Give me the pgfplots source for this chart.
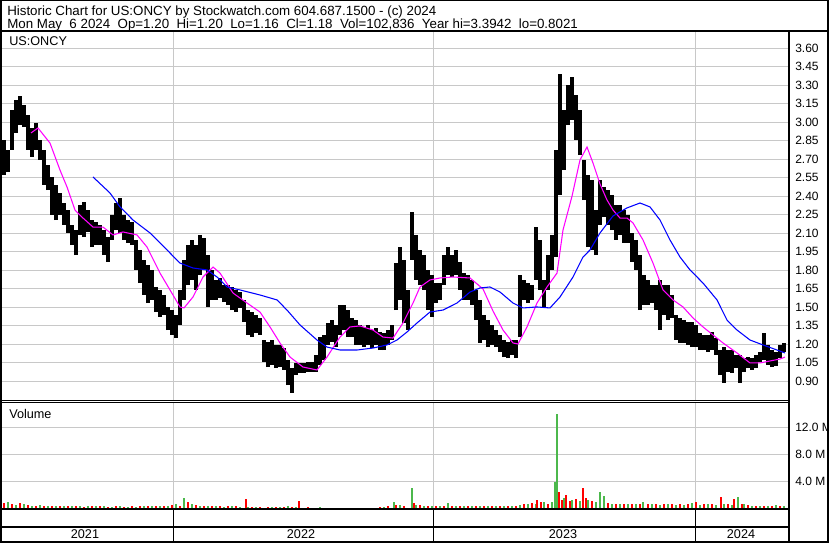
\documentclass[border=0pt]{standalone}
\usepackage{fontspec}
\setmainfont{Liberation Sans}
\usepackage{pgfplots}
\usepackage{pgfplotstable}
\pgfplotsset{compat=1.18}

\definecolor{gridc}{RGB}{200,200,200}
\definecolor{vgreen}{RGB}{76,184,76}
\definecolor{vred}{RGB}{255,0,0}
\definecolor{mag}{RGB}{255,0,255}
\definecolor{mblue}{RGB}{0,0,255}

% daily range (lo/hi), x = trading position along the chart
\pgfplotstableread{
x lo hi
0 2.694 2.880
4 2.572 2.856
8 2.596 2.775
12 2.775 3.099
16 2.913 3.180
20 2.977 3.213
24 2.961 3.139
28 2.775 3.058
32 2.718 2.953
36 2.775 2.994
40 2.694 2.856
44 2.491 2.775
48 2.450 2.653
52 2.248 2.556
56 2.207 2.491
60 2.248 2.426
64 2.167 2.345
68 2.102 2.288
72 2.004 2.167
76 1.923 2.126
80 2.086 2.329
84 2.069 2.353
88 2.110 2.288
92 1.988 2.207
96 2.004 2.191
100 2.004 2.167
104 1.923 2.126
108 1.867 2.069
112 2.045 2.248
116 2.126 2.345
120 2.102 2.386
124 2.045 2.248
128 2.021 2.207
132 2.004 2.191
136 1.802 2.045
140 1.696 1.964
144 1.599 1.883
148 1.534 1.842
152 1.559 1.802
156 1.461 1.664
160 1.421 1.640
164 1.437 1.599
168 1.315 1.502
172 1.275 1.477
176 1.250 1.437
180 1.356 1.640
184 1.559 1.883
188 1.680 2.004
192 1.721 2.045
196 1.640 2.004
200 1.761 2.086
204 1.802 2.061
208 1.502 1.923
212 1.559 1.802
216 1.559 1.721
220 1.575 1.737
224 1.542 1.680
228 1.518 1.680
232 1.477 1.664
236 1.461 1.640
240 1.494 1.623
244 1.380 1.559
248 1.275 1.477
252 1.258 1.461
256 1.291 1.437
260 1.275 1.413
264 1.056 1.234
268 1.015 1.218
272 1.032 1.234
276 1.007 1.194
280 1.015 1.194
284 0.991 1.169
288 0.869 1.072
292 0.805 1.007
296 0.950 1.048
300 0.967 1.048
304 0.967 1.048
308 0.975 1.056
312 0.975 1.056
316 0.975 1.113
320 1.032 1.258
324 1.072 1.275
328 1.194 1.372
332 1.218 1.396
336 1.177 1.356
340 1.275 1.518
344 1.315 1.518
348 1.258 1.477
352 1.258 1.413
356 1.194 1.396
360 1.194 1.356
364 1.177 1.340
368 1.194 1.356
372 1.169 1.315
376 1.194 1.331
380 1.153 1.299
384 1.153 1.291
388 1.194 1.315
392 1.234 1.356
396 1.477 1.858
400 1.559 1.988
404 1.372 1.883
408 1.315 1.640
412 1.883 2.272
416 1.721 2.086
420 1.680 1.964
424 1.640 1.923
428 1.477 1.802
432 1.421 1.761
436 1.534 1.696
440 1.559 1.696
444 1.680 1.923
448 1.761 1.988
452 1.745 1.923
456 1.761 1.964
460 1.640 1.867
464 1.559 1.777
468 1.559 1.761
472 1.518 1.721
476 1.396 1.640
480 1.210 1.559
484 1.234 1.437
488 1.177 1.396
492 1.194 1.356
496 1.177 1.315
500 1.137 1.275
504 1.096 1.234
508 1.088 1.218
512 1.113 1.234
516 1.088 1.234
520 1.258 1.761
524 1.559 1.721
528 1.534 1.696
532 1.559 1.680
536 1.721 2.150
540 1.640 2.045
544 1.502 1.721
548 1.640 1.923
552 1.802 2.086
556 1.907 2.775
560 2.410 3.391
564 2.612 3.099
568 2.977 3.302
572 3.018 3.367
576 2.856 3.221
580 2.734 3.099
584 2.369 2.694
588 1.988 2.572
592 1.964 2.531
596 1.923 2.288
600 2.167 2.531
604 2.231 2.475
608 2.167 2.450
612 2.126 2.410
616 2.045 2.329
620 2.086 2.329
624 2.021 2.288
628 2.021 2.248
632 1.867 2.102
636 1.802 2.045
640 1.477 1.923
644 1.518 1.761
648 1.518 1.721
652 1.534 1.680
656 1.477 1.680
660 1.315 1.721
664 1.437 1.680
668 1.396 1.680
672 1.413 1.599
676 1.234 1.437
680 1.210 1.413
684 1.210 1.396
688 1.194 1.380
692 1.177 1.380
696 1.177 1.356
700 1.153 1.291
704 1.153 1.275
708 1.137 1.275
712 1.153 1.299
716 1.113 1.250
720 0.950 1.153
724 0.886 1.177
728 0.975 1.153
732 0.967 1.153
736 1.007 1.113
740 0.886 1.113
744 0.975 1.088
748 1.007 1.096
752 0.991 1.088
756 1.007 1.113
760 1.056 1.137
764 1.072 1.291
768 1.032 1.194
772 1.015 1.153
776 1.023 1.137
780 1.088 1.194
784 1.137 1.210
}\bars

\begin{document}
\begin{tikzpicture}
\path[use as bounding box] (0,0) rectangle (622.5pt,-407.25pt);

% header
\node[anchor=base west, inner sep=0pt, font=\fontsize{10}{12}\selectfont] at (5.25pt,-11.25pt)
  {Historic Chart for US:ONCY by Stockwatch.com 604.687.1500 - (c) 2024};
\node[anchor=base west, inner sep=0pt, font=\fontsize{10}{12}\selectfont] at (5.25pt,-21pt)
  {Mon May\ \ 6 2024\ \ Op=1.20\ \ Hi=1.20\ \ Lo=1.16\ \ Cl=1.18\ \ Vol=102,836\ \ Year hi=3.3942\ \ lo=0.8021};

% price panel
\begin{axis}[
  at={(0pt,-23.25pt)}, anchor=north west,
  scale only axis, width=591.75pt, height=277.5pt,
  xmin=0, xmax=789, ymin=0.7395, ymax=3.7395,
  axis line style={draw=none}, major tick length=0pt,
  xtick={173,433.5,695}, xticklabels={},
  ytick={0.90,1.05,1.20,1.35,1.50,1.65,1.80,1.95,2.10,2.25,2.40,2.55,2.70,2.85,3.00,3.15,3.30,3.45,3.60},
  yticklabel pos=right,
  /pgf/number format/assume math mode=true,
  yticklabel style={anchor=west, inner sep=0pt, xshift=4.5pt, font=\fontsize{9}{10}\selectfont,
    /pgf/number format/fixed, /pgf/number format/fixed zerofill, /pgf/number format/precision=2},
  grid=major, major grid style={gridc, line width=0.75pt},
]
\addplot[draw=none, mark=none,
  error bars/.cd, y dir=plus, y explicit, error mark=none,
  error bar style={draw=black, solid, line width=2.4pt}]
  table[x=x, y=lo, y error expr=\thisrow{hi}-\thisrow{lo}] {\bars};
% short moving average
\addplot[mag, line width=0.8pt] coordinates {
(31,2.913)(38,2.953)(50,2.831)(60,2.612)(67,2.475)(75,2.288)(83,2.223)(93,2.150)
(103,2.150)(113,2.086)(123,2.110)(137,2.086)(147,1.988)(160,1.777)(170,1.640)(180,1.502)
(184,1.494)(193,1.583)(203,1.745)(213,1.826)(220,1.777)(233,1.615)(247,1.534)(260,1.461)
(270,1.340)(280,1.210)(290,1.096)(303,1.015)(317,0.991)(327,1.096)(340,1.258)(350,1.340)
(360,1.348)(373,1.315)(383,1.258)(393,1.250)(403,1.372)(413,1.534)(420,1.664)(430,1.721)
(440,1.737)(453,1.745)(470,1.737)(483,1.648)(493,1.469)(503,1.315)(513,1.210)(518,1.202)
(527,1.340)(537,1.534)(547,1.664)(557,1.777)(563,2.126)(572,2.400)(580,2.694)(587,2.799)
(593,2.669)(600,2.499)(607,2.369)(613,2.288)(620,2.223)(627,2.223)(633,2.183)(643,2.045)
(653,1.858)(663,1.640)(673,1.559)(683,1.502)(693,1.413)(703,1.340)(713,1.275)(723,1.210)
(737,1.129)(750,1.048)(760,1.048)(770,1.064)(780,1.080)(785,1.096)};
% long moving average
\addplot[mblue, line width=0.8pt] coordinates {
(93,2.556)(110,2.426)(120,2.313)(133,2.207)(150,2.102)(167,1.964)(180,1.858)(193,1.818)
(207,1.802)(217,1.745)(227,1.664)(240,1.640)(260,1.599)(277,1.559)(287,1.477)(300,1.356)
(317,1.234)(327,1.177)(340,1.153)(357,1.153)(373,1.169)(387,1.194)(397,1.234)(407,1.299)
(417,1.372)(430,1.461)(443,1.477)(457,1.534)(470,1.623)(480,1.656)(490,1.664)(500,1.623)
(513,1.534)(523,1.494)(537,1.502)(550,1.494)(560,1.583)(573,1.745)(583,1.907)(590,1.964)
(600,2.102)(613,2.240)(627,2.305)(640,2.345)(650,2.313)(660,2.207)(670,2.045)(680,1.907)
(690,1.802)(703,1.696)(717,1.559)(727,1.396)(737,1.315)(750,1.234)(763,1.194)(777,1.153)
(785,1.129)};
\end{axis}

% volume panel
\begin{axis}[
  at={(0pt,-301.5pt)}, anchor=north west,
  scale only axis, width=591.75pt, height=80.25pt,
  xmin=0, xmax=789, ymin=0, ymax=15.7,
  axis line style={draw=none}, major tick length=0pt,
  xtick={173,433.5,695}, xticklabels={},
  ytick={4,8,12}, yticklabels={4.0 M,8.0 M,12.0 M},
  yticklabel pos=right,
  yticklabel style={anchor=west, inner sep=0pt, xshift=4.5pt, font=\fontsize{9}{10}\selectfont},
  grid=major, major grid style={gridc, line width=0.75pt},
]
\addplot[ycomb, vgreen, line width=2.2pt] coordinates {
(0,0.8)(8,1.1)(16,0.6)(24,0.7)(32,0.5)(40,0.6)(48,0.5)(56,0.4)(64,0.5)(72,0.4)(80,0.5)
(88,0.4)(96,0.5)(104,0.4)(112,0.3)(120,0.5)(128,0.3)(136,0.3)(144,0.5)(152,0.4)(160,0.5)
(168,0.4)(176,0.7)(184,1.6)(192,0.7)(200,0.5)(208,0.5)(216,0.4)(224,0.3)(232,0.4)(240,0.3)
(248,0.3)(256,0.3)(264,0.2)(272,0.3)(280,0.3)(288,0.4)(296,0.3)(304,0.2)(312,0.2)(320,0.3)
(328,0.2)(336,0.2)(344,0.2)(352,0.2)(360,0.2)(368,0.2)(376,0.2)(384,0.3)(394,1.1)(400,0.6)
(412,3.1)(416,0.6)(424,0.5)(432,0.4)(440,0.5)(448,0.9)(456,0.4)(464,0.4)(472,0.5)(480,0.4)
(488,0.4)(496,0.5)(504,0.5)(512,0.4)(520,0.6)(528,0.7)(536,0.8)(544,1.0)(552,1.1)(555,4.0)
(557,14.0)(564,1.6)(572,1.3)(580,1.2)(588,1.3)(596,1.1)(600,2.5)(604,1.9)(612,0.8)(620,0.7)
(628,0.8)(636,0.7)(643,1.1)(652,0.8)(660,0.6)(668,0.7)(676,0.6)(684,0.6)(692,0.9)(700,0.6)
(708,0.7)(716,0.6)(724,0.7)(732,0.6)(738,1.8)(744,0.7)(752,0.5)(760,0.5)(768,0.5)(776,0.6)
(784,0.4)};
\addplot[ycomb, vred, line width=2.2pt] coordinates {
(4,0.9)(12,0.7)(20,0.9)(28,0.6)(36,0.5)(44,0.5)(52,0.4)(60,0.5)(68,0.4)(76,0.5)(84,0.3)
(92,0.5)(100,0.4)(108,0.3)(116,0.4)(124,0.3)(132,0.5)(140,0.5)(148,0.4)(156,0.5)(164,0.5)
(172,0.6)(180,0.5)(188,1.0)(196,0.6)(204,0.5)(212,0.5)(220,0.4)(228,0.4)(236,0.5)(246,1.5)
(252,0.3)(260,0.3)(268,0.3)(276,0.3)(284,0.3)(292,0.3)(299,1.2)(308,0.3)(316,0.2)(324,0.2)
(332,0.2)(340,0.2)(348,0.2)(356,0.2)(364,0.2)(372,0.2)(380,0.3)(388,0.4)(396,0.6)(404,0.5)
(414,0.9)(420,0.6)(428,0.5)(436,0.4)(444,0.5)(452,0.5)(460,0.4)(468,0.5)(476,0.5)(484,0.4)
(492,0.4)(500,0.5)(508,0.4)(516,0.5)(524,0.7)(532,0.9)(537,1.3)(541,1.1)(548,0.8)(559,2.5)
(562,1.3)(566,2.1)(570,1.2)(576,1.4)(583,3.1)(586,1.6)(592,1.2)(608,0.9)(616,0.8)(624,0.7)
(632,0.8)(640,0.8)(648,0.7)(656,0.7)(664,0.7)(672,0.8)(680,0.7)(688,0.7)(696,1.1)(704,0.7)
(712,0.7)(721,1.8)(728,0.8)(734,1.5)(742,0.8)(748,0.6)(756,0.5)(764,0.5)(772,0.4)(780,0.5)};
\end{axis}

% frame, panel names and years (pixel grid of the chart)
\begin{scope}[x=0.75pt, y=-0.75pt]
\node[anchor=west, inner sep=0pt, font=\fontsize{9.5}{11}\selectfont] at (9,41) {US:ONCY};
\node[anchor=west, inner sep=0pt, font=\fontsize{9.5}{11}\selectfont] at (9,413.5) {Volume};
\fill[white] (828,31) rectangle (831,543);
\draw[line width=1.5pt] (1,0) -- (1,543);
\draw[line width=1.5pt] (0,542) -- (829,542);
\draw[line width=1.5pt] (828,0) -- (828,543);
\draw[line width=0.75pt] (0,0.4) -- (829,0.4);
\draw[line width=1.5pt] (0,31) -- (829,31);
\draw[line width=1.5pt] (789,31) -- (789,543);
\draw[line width=0.75pt] (0,400.7) -- (789,400.7);
\draw[line width=0.75pt] (0,402.7) -- (789,402.7);
\draw[line width=1.5pt] (0,509.3) -- (789,509.3);
\draw[line width=1.5pt] (0,526.7) -- (789,526.7);
\foreach \xx in {173,433.5,695} \draw[line width=0.75pt] (\xx,509) -- (\xx,542);
\foreach \xx/\yr in {85/2021,301/2022,563/2023,741/2024}
  \node[inner sep=0pt, font=\fontsize{9.5}{11}\selectfont] at (\xx,534.5) {\yr};
\end{scope}
\end{tikzpicture}
\end{document}
